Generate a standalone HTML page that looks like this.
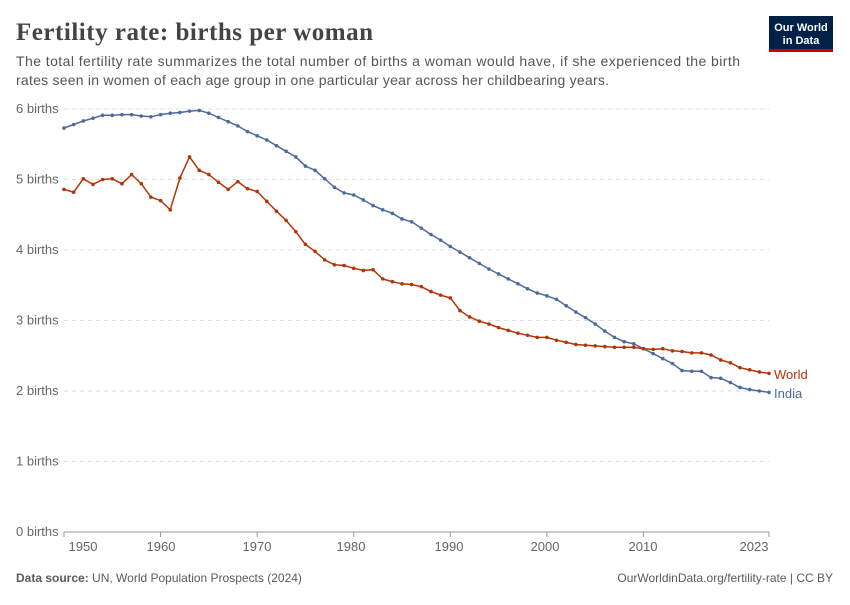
<!DOCTYPE html>
<html><head><meta charset="utf-8"><style>
body{margin:0;background:#fff;width:850px;height:600px;overflow:hidden;font-family:"Liberation Sans",sans-serif}
</style></head><body>
<svg id="s" width="850" height="600" xmlns="http://www.w3.org/2000/svg">
<text x="16" y="40" font-size="25" font-weight="bold" fill="#444" textLength="357" style="font-family:'Liberation Serif',serif">Fertility rate: births per woman</text>
<text x="16" y="66" font-size="14" fill="#555" textLength="724" style="font-family:'Liberation Sans',sans-serif">The total fertility rate summarizes the total number of births a woman would have, if she experienced the birth</text>
<text x="16" y="85" font-size="14" fill="#555" textLength="593" style="font-family:'Liberation Sans',sans-serif">rates seen in women of each age group in one particular year across her childbearing years.</text>
<rect x="769" y="16" width="64" height="36" fill="#002147"/>
<rect x="769" y="49" width="64" height="3" fill="#c00"/>
<text x="801" y="31" font-size="11" fill="#fff" text-anchor="middle" font-weight="bold">Our World</text>
<text x="801" y="44" font-size="11" fill="#fff" text-anchor="middle" font-weight="bold">in Data</text>
<g id="grid"></g>
<g id="lines"></g>
<text x="16" y="582" font-size="12" fill="#5b5b5b"><tspan font-weight="bold">Data source:</tspan> UN, World Population Prospects (2024)</text>
<text x="833" y="582" font-size="12" fill="#5b5b5b" text-anchor="end">OurWorldinData.org/fertility-rate | CC BY</text>
</svg>
<script>
var NS="http://www.w3.org/2000/svg";
function el(p,t,a,txt){var e=document.createElementNS(NS,t);for(var k in a)e.setAttribute(k,a[k]);if(txt)e.textContent=txt;p.appendChild(e);return e;}
var g=document.getElementById('grid'),L=document.getElementById('lines');
function X(y){return 64+(y-1950)*705/73;}function Y(v){return 532-v*70.5;}
for(var i=0;i<=6;i++){var y=Y(i);
 if(i>0)el(g,'line',{x1:64,x2:769,y1:y,y2:y,stroke:'#ddd','stroke-dasharray':'4,4'});
 el(g,'text',{x:16,y:y+4,'font-size':13,fill:'#666'},i+' births');}
el(g,'line',{x1:64,x2:769,y1:532,y2:532,stroke:'#999'});
[[1950,83],[1960,161],[1970,257],[1980,351],[1990,449],[2000,545],[2010,643],[2023,754]].forEach(function(t){
 el(g,'line',{x1:X(t[0]),x2:X(t[0]),y1:532,y2:537,stroke:'#999'});
 el(g,'text',{x:t[1],y:551,'font-size':13,fill:'#666','text-anchor':'middle'},''+t[0]);});
var india=[5.73,5.78,5.83,5.87,5.91,5.91,5.92,5.92,5.90,5.89,5.92,5.94,5.95,5.97,5.98,5.94,5.88,5.82,5.76,5.68,5.62,5.56,5.48,5.40,5.32,5.19,5.13,5.01,4.89,4.81,4.78,4.71,4.63,4.57,4.52,4.44,4.40,4.31,4.22,4.14,4.05,3.97,3.89,3.81,3.73,3.66,3.59,3.52,3.45,3.39,3.35,3.30,3.21,3.12,3.04,2.95,2.85,2.76,2.70,2.67,2.60,2.53,2.46,2.39,2.29,2.28,2.28,2.19,2.18,2.12,2.05,2.02,2.00,1.98];
var world=[4.86,4.82,5.01,4.93,5.00,5.01,4.94,5.07,4.94,4.75,4.70,4.57,5.02,5.32,5.13,5.07,4.96,4.86,4.97,4.87,4.83,4.69,4.55,4.42,4.26,4.08,3.98,3.86,3.79,3.78,3.74,3.71,3.72,3.59,3.55,3.52,3.51,3.48,3.41,3.36,3.32,3.14,3.05,2.99,2.95,2.90,2.86,2.82,2.79,2.76,2.76,2.72,2.69,2.66,2.65,2.64,2.63,2.62,2.62,2.62,2.60,2.59,2.60,2.57,2.56,2.54,2.54,2.51,2.44,2.40,2.33,2.30,2.27,2.25];
function draw(d,c){var pts=d.map(function(v,i){return X(1950+i).toFixed(1)+','+Y(v).toFixed(1)}).join(' ');
 el(L,'polyline',{points:pts,fill:'none',stroke:c,'stroke-width':1.5});
 d.forEach(function(v,i){el(L,'circle',{cx:X(1950+i),cy:Y(v),r:1.8,fill:c});});}
draw(india,'#4c6a9c');draw(world,'#b13507');
el(L,'text',{x:774,y:379,'font-size':13,fill:'#b13507'},'World');
el(L,'text',{x:774,y:398,'font-size':13,fill:'#4c6a9c'},'India');
</script>
</body></html>
